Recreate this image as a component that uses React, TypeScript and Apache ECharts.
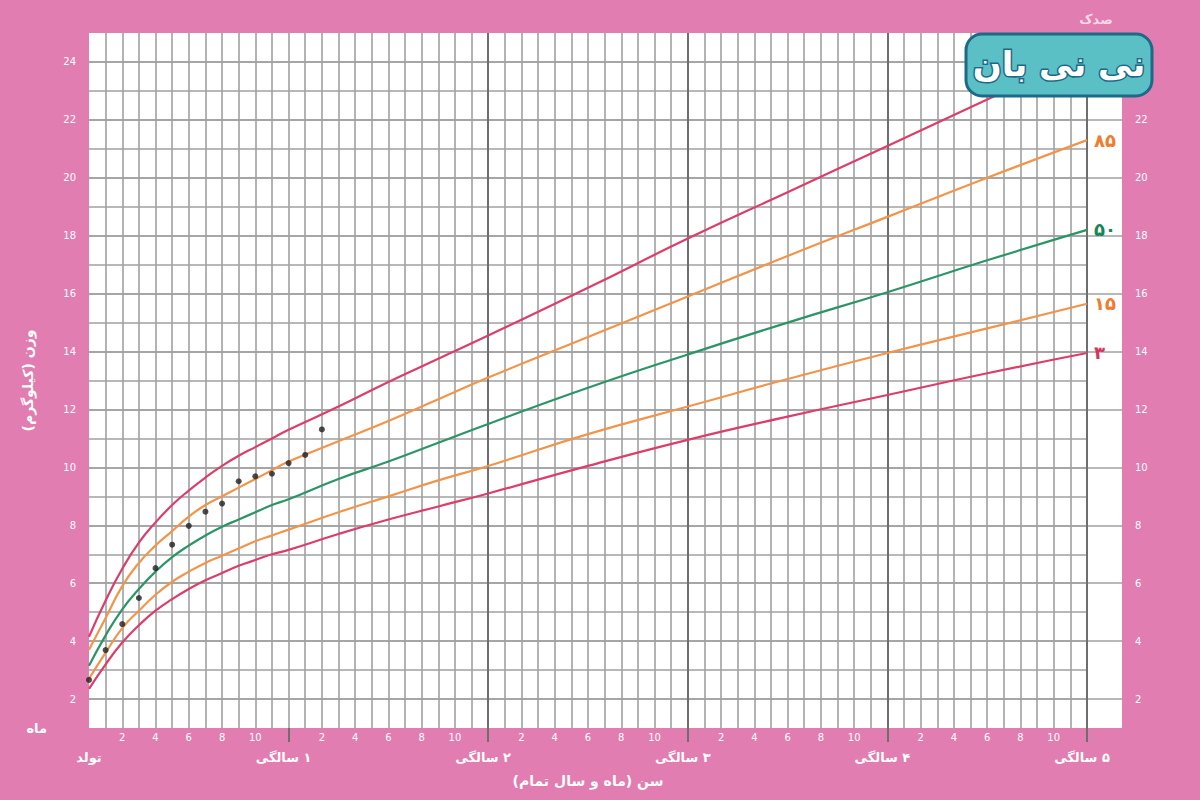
import React, { useEffect, useRef } from "react";
import * as echarts from "echarts";

// Age in months for the reference percentile curves
const ageMonths = [0, 1, 2, 3, 4, 5, 6, 7, 8, 9, 10, 11, 12, 15, 18, 21, 24, 30, 36, 42, 48, 54, 60];
const p3 = [2.35, 3.2, 3.95, 4.55, 5.05, 5.45, 5.8, 6.1, 6.35, 6.6, 6.8, 7.0, 7.15, 7.7, 8.2, 8.65, 9.1, 10.05, 10.95, 11.75, 12.5, 13.25, 13.95];
const p15 = [2.7, 3.6, 4.45, 5.05, 5.6, 6.05, 6.4, 6.7, 6.95, 7.2, 7.45, 7.65, 7.85, 8.45, 9.0, 9.55, 10.05, 11.15, 12.1, 13.05, 13.95, 14.8, 15.65];
const p50 = [3.15, 4.2, 5.1, 5.8, 6.4, 6.9, 7.3, 7.65, 7.95, 8.2, 8.45, 8.7, 8.9, 9.6, 10.2, 10.85, 11.5, 12.75, 13.9, 15.0, 16.05, 17.15, 18.2];
const p85 = [3.7, 4.8, 5.9, 6.7, 7.3, 7.8, 8.3, 8.7, 9.0, 9.3, 9.6, 9.9, 10.2, 10.9, 11.6, 12.35, 13.1, 14.5, 15.9, 17.3, 18.65, 20.0, 21.3];
const p97 = [4.15, 5.4, 6.5, 7.4, 8.1, 8.7, 9.2, 9.65, 10.05, 10.4, 10.7, 11.0, 11.3, 12.1, 12.95, 13.75, 14.55, 16.2, 17.9, 19.5, 21.1, 22.7, 24.3];
// Labels drawn at the end of each curve (the top one sits under the logo, so it has none)
const percentileNames = ["۳", "۱۵", "۵۰", "۸۵", ""];

// The child's measurements
const childAge = [0, 1, 2, 3, 4, 5, 6, 7, 8, 9, 10, 11, 12, 13, 14];
const childWeight = [2.66, 3.69, 4.59, 5.49, 6.52, 7.33, 7.98, 8.47, 8.75, 9.52, 9.69, 9.78, 10.15, 10.43, 11.31];

// Axis ticks and labels
const yearTicks = [0, 12, 24, 36, 48, 60];
const yearLabels = ["تولد", "۱ سالگی", "۲ سالگی", "۳ سالگی", "۴ سالگی", "۵ سالگی"];
const evenWeights = [2, 4, 6, 8, 10, 12, 14, 16, 18, 20, 22, 24];
const rightWeightLabels = [2, 4, 6, 8, 10, 12, 14, 16, 18, 20, 22];

const FONT = "'DejaVu Sans', 'Noto Sans', sans-serif";
const RLM = "\u200F";
const PINK = "#e17db1";
const GRID_GRAY = "#a0a0a0";
const YEAR_GRAY = "#6e6e6e";

export default function App() {
  const ref = useRef<HTMLDivElement>(null);

  useEffect(() => {
    if (!ref.current) return;
    const chart = echarts.init(ref.current, undefined, { renderer: "svg" });

    const curve = (name: string, vals: number[], color: string, labelColor: string) => ({
      type: "line",
      name: name || "97",
      xAxisIndex: 0,
      yAxisIndex: 0,
      data: ageMonths.map((m, i) => [m, vals[i]]),
      showSymbol: false,
      symbol: "none",
      smooth: 0.5,
      lineStyle: { color, width: 2.2 },
      z: 3,
      endLabel: {
        show: name !== "",
        formatter: () => name,
        color: labelColor,
        fontSize: 18,
        fontWeight: "bold",
        fontFamily: FONT,
        distance: 7,
      },
    });

    const option: any = {
      animation: false,
      backgroundColor: PINK,
      grid: [
        { left: 89, top: 33, width: 998, height: 695, show: false },
        { left: 89, top: 33, width: 1033, height: 695, show: true, backgroundColor: "#ffffff", borderWidth: 0 },
      ],
      xAxis: [
        {
          gridIndex: 0,
          type: "value",
          min: 0,
          max: 60,
          interval: 1,
          position: "bottom",
          name: "ماه",
          nameLocation: "start",
          nameGap: 42,
          nameTextStyle: { color: "#fff", fontSize: 13, fontWeight: "bold", fontFamily: FONT, verticalAlign: "middle" },
          axisLine: { show: false },
          axisTick: { show: false },
          axisLabel: {
            color: "#fff",
            fontSize: 10,
            margin: 4,
            fontFamily: FONT,
            formatter: (v: number) => (v % 12 !== 0 && v % 2 === 0 ? String(v % 12) : ""),
          },
          splitLine: { show: true, showMinLine: false, lineStyle: { color: GRID_GRAY, width: 1.6 } },
        },
        {
          gridIndex: 0,
          type: "value",
          min: 0,
          max: 60,
          interval: 12,
          position: "bottom",
          name: RLM + "سن (ماه و سال تمام)" + RLM,
          nameLocation: "middle",
          nameGap: 46,
          nameTextStyle: { color: "#fff", fontSize: 14, fontWeight: "bold", fontFamily: FONT },
          axisLine: { show: false },
          axisTick: { show: true, length: 14, customValues: [12, 24, 36, 48, 60], lineStyle: { color: YEAR_GRAY, width: 2 } },
          axisLabel: {
            customValues: yearTicks,
            margin: 23,
            color: "#fff",
            fontSize: 13,
            fontWeight: "bold",
            fontFamily: FONT,
            formatter: (v: number) => {
              const i = yearTicks.indexOf(v);
              if (i < 0) return "";
              return i === 0 ? RLM + yearLabels[i] : "{y|" + RLM + yearLabels[i] + "}";
            },
            rich: { y: { padding: [0, 10, 0, 0], color: "#fff", fontSize: 13, fontWeight: "bold", fontFamily: FONT } },
          },
          splitLine: { show: true, showMinLine: false, lineStyle: { color: YEAR_GRAY, width: 2 } },
        },
        { gridIndex: 1, type: "value", min: 0, max: 1, show: false },
      ],
      yAxis: [
        {
          gridIndex: 0,
          type: "value",
          min: 1,
          max: 25,
          interval: 1,
          position: "left",
          name: RLM + "وزن (کیلوگرم)" + RLM,
          nameLocation: "middle",
          nameGap: 54,
          nameRotate: 90,
          nameTextStyle: { color: "#fff", fontSize: 14, fontWeight: "bold", fontFamily: FONT },
          axisLine: { show: false },
          axisTick: { show: false },
          axisLabel: {
            color: "#fff",
            fontSize: 10,
            margin: 13,
            fontFamily: FONT,
            formatter: (v: number) => (v % 2 === 0 ? String(v) : ""),
          },
          splitLine: { show: true, showMinLine: false, showMaxLine: false, lineStyle: { color: GRID_GRAY, width: 1.6 } },
        },
        {
          gridIndex: 1,
          type: "value",
          min: 1,
          max: 25,
          position: "right",
          axisLine: { show: false },
          axisTick: { show: false, customValues: evenWeights },
          axisLabel: {
            customValues: rightWeightLabels,
            color: "#fff",
            fontSize: 10,
            margin: 13,
            fontFamily: FONT,
          },
          splitLine: { show: true, lineStyle: { color: GRID_GRAY, width: 1.6 } },
        },
      ],
      series: [
        curve(percentileNames[0], p3, "#dc3d6b", "#d6335e"),
        curve(percentileNames[1], p15, "#f29449", "#ee7d2f"),
        curve(percentileNames[2], p50, "#2b9567", "#17855a"),
        curve(percentileNames[3], p85, "#f29449", "#ee7d2f"),
        curve(percentileNames[4], p97, "#dc3d6b", "#d6335e"),
        {
          type: "scatter",
          xAxisIndex: 0,
          yAxisIndex: 0,
          data: childAge.map((m, i) => [m, childWeight[i]]),
          symbolSize: 6,
          itemStyle: { color: "#1f1f1f" },
          z: 5,
        },
      ],
      graphic: [
        {
          type: "text",
          x: 1096,
          y: 19,
          z: 100,
          style: {
            text: "صدک",
            fill: "#f8d9ea",
            fontSize: 13,
            fontWeight: "bold",
            fontFamily: FONT,
            align: "center",
            verticalAlign: "middle",
          },
        },
        {
          type: "group",
          z: 100,
          children: [
            {
              type: "rect",
              z: 100,
              shape: { x: 966, y: 34, width: 186, height: 62, r: 16 },
              style: { fill: "#5bbfc6", stroke: "#1d6a86", lineWidth: 3 },
            },
            {
              type: "text",
              z: 101,
              x: 1059,
              y: 64,
              style: {
                text: "نی نی بان",
                fill: "#ffffff",
                stroke: "#1d6a86",
                lineWidth: 3,
                fontSize: 34,
                fontWeight: "bold",
                fontFamily: FONT,
                align: "center",
                verticalAlign: "middle",
              },
            },
          ],
        },
      ],
    };

    chart.setOption(option);
    return () => chart.dispose();
  }, []);

  return (
    <div
      ref={ref}
      style={{ position: "fixed", left: 0, top: 0, width: 1200, height: 800, background: PINK }}
    />
  );
}
